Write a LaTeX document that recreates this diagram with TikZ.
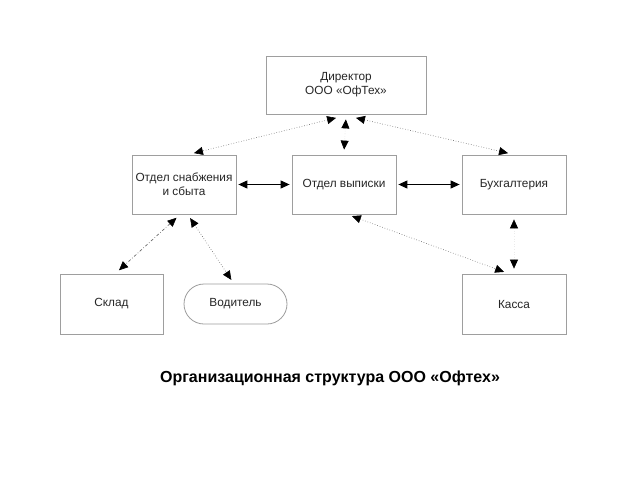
\documentclass[tikz,border=0pt]{standalone}
\usepackage{fontspec}
\setmainfont{Liberation Sans}
\usetikzlibrary{arrows.meta}
\begin{document}
\begin{tikzpicture}[x=1pt,y=-1pt,
  box/.style={draw=black!38, line width=0.8pt, minimum width=104pt, minimum height=59pt, inner sep=2pt, align=center, text=black!85, font=\fontsize{11.8}{14}\selectfont},
  both/.style={{Triangle[length=9pt,width=8pt,color=black]}-{Triangle[length=9pt,width=8pt,color=black]}},
  dotline/.style={both, draw=black!60, line width=0.6pt, dotted, shorten >=2pt, shorten <=2pt},
  solidline/.style={both, line width=1pt, shorten >=2pt, shorten <=2pt}]
\useasboundingbox[fill=white] (0,0) rectangle (640,480);
\node[box, minimum width=160pt, minimum height=58pt] (dir) at (346,85) {Директор\\ООО «ОфТех»};
\node[box] (snab) at (184,184.5) {Отдел снабжения\\и сбыта};
\node[box] (vyp) at (344,184.5) {Отдел выписки};
\node[box] (bukh) at (514,184.5) {Бухгалтерия};
\node[box, minimum width=103pt, minimum height=60pt] (sklad) at (111.5,304) {Склад};
\node[box, minimum width=103pt, minimum height=40pt, rounded corners=20pt] (vod) at (235.5,304) {Водитель};
\node[box, minimum height=60pt] (kassa) at (514,304) {Касса};
\node[font=\fontsize{16}{19}\selectfont\bfseries] (title) at (330,378) {Организационная структура ООО «Офтех»};
% connectors
\draw[dotline] ([xshift=-8pt,yshift=-3pt]dir.south) -- ([xshift=8pt,yshift=1pt]snab.north);
\draw[dotline, draw=black!12] ([yshift=-3pt]dir.south) -- ([yshift=3pt]vyp.north);
\draw[dotline] ([xshift=8pt,yshift=-3pt]dir.south) -- ([xshift=-4pt,yshift=1pt]bukh.north);
\draw[solidline] (snab.east) -- (vyp.west);
\draw[solidline] (vyp.east) -- (bukh.west);
\draw[dotline, draw=black!8] ([yshift=-3pt]bukh.south) -- ([yshift=3pt]kassa.north);
\draw[dotline] ([xshift=6pt,yshift=-1pt]vyp.south) -- ([xshift=-8pt,yshift=1pt]kassa.north);
\draw[dotline, dashdotted] ([xshift=-6pt,yshift=-2pt]snab.south) -- ([xshift=6pt,yshift=2pt]sklad.north);
\draw[dotline] ([xshift=5pt,yshift=-2pt]snab.south) -- ([xshift=-3pt,yshift=2pt]vod.north);
\end{tikzpicture}
\end{document}
